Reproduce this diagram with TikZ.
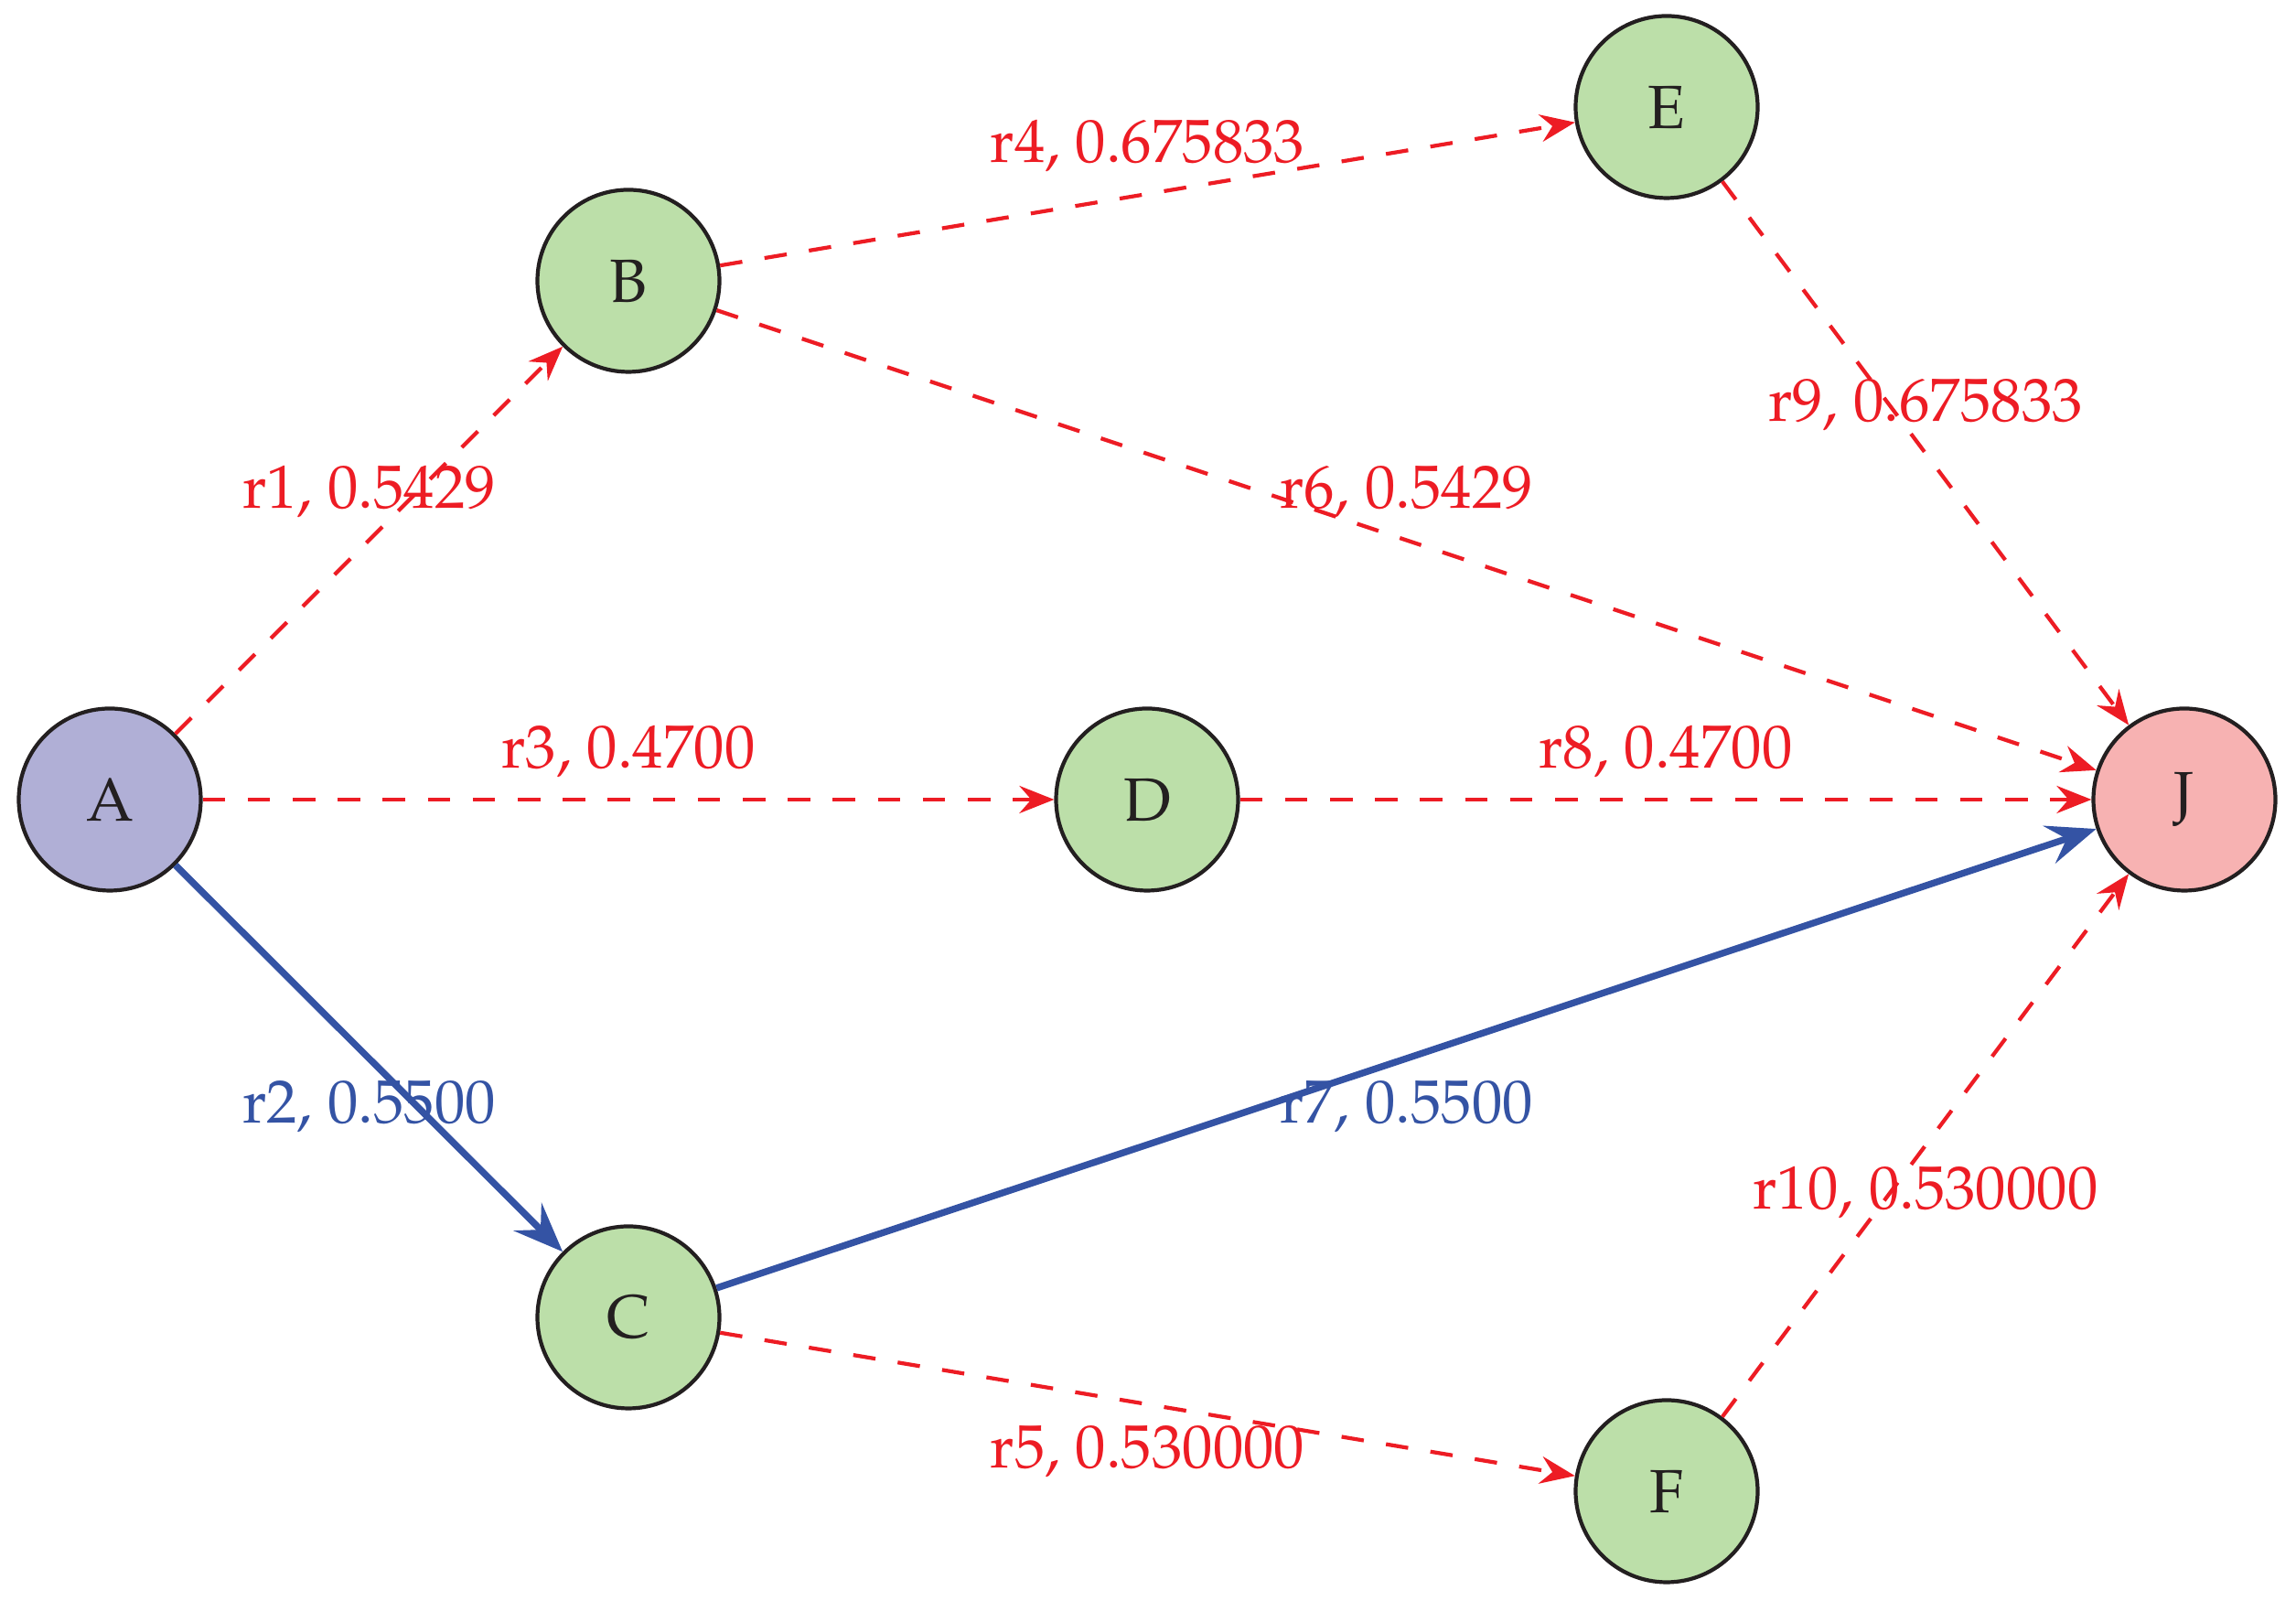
\documentclass[tikz,border=0pt]{standalone}
\usepackage[T1]{fontenc}
\usepackage{mathpazo}
\usepackage{tikz}
\usetikzlibrary{arrows.meta}

\definecolor{edgered}{RGB}{237,28,36}
\definecolor{pathblue}{RGB}{52,83,164}
\definecolor{nodegreen}{RGB}{188,223,169}
\definecolor{startblue}{RGB}{176,175,214}
\definecolor{endpink}{RGB}{247,178,178}
\definecolor{rim}{RGB}{35,31,32}

\begin{document}
\begin{tikzpicture}[
    every node/.style={font=\fontsize{19}{23}\selectfont},
    state/.style={circle, draw=rim, line width=1.2pt, minimum size=1.99cm, inner sep=0pt, text=rim},
    other/.style={edgered, line width=1.2pt, dash pattern=on 7pt off 7pt,
      -{Stealth[length=3.8mm, width=3mm, inset=1.3mm]}},
    best/.style={pathblue, line width=2.1pt,
      -{Stealth[length=5.4mm, width=4.3mm, inset=2mm]}},
    lblabove/.style={midway, above=1mm},
    lblbelow/.style={midway, below=0.9mm}
  ]
    % Page size
    \useasboundingbox (0,0) rectangle (25.10,17.50);

    % Define the columns
    \def\xa{1.20}
    \def\xb{6.87}
    \def\xc{12.54}
    \def\xd{18.22}
    \def\xe{23.88}

    % The states
    \node[state, fill=startblue] (A) at (\xa, 8.76) {A};
    \node[state, fill=nodegreen] (B) at (\xb, 14.43) {B};
    \node[state, fill=nodegreen] (C) at (\xb, 3.10) {C};
    \node[state, fill=nodegreen] (D) at (\xc, 8.76) {D};
    \node[state, fill=nodegreen] (E) at (\xd, 16.33) {E};
    \node[state, fill=nodegreen] (F) at (\xd, 1.20) {F};
    \node[state, fill=endpink] (J) at (\xe, 8.76) {J};

    % Reactions, upper half
    \draw[other] (A) -- (B) node[lblabove] {r1, 0.5429};
    \draw[other] (A) -- (D) node[lblabove] {r3, 0.4700};
    \draw[other] (B) -- (E) node[lblabove] {r4, 0.675833};
    \draw[other] (B) -- (J) node[lblabove] {r6, 0.5429};
    \draw[other] (D) -- (J) node[lblabove] {r8, 0.4700};
    \draw[other] (E) -- (J) node[lblabove] {r9, 0.675833};

    % Reactions, lower half
    \draw[other] (C) -- (F) node[lblbelow] {r5, 0.530000};
    \draw[other] (F) -- (J) node[lblbelow] {r10, 0.530000};

    % Best route
    \draw[best] (A) -- (C) node[lblbelow] {r2, 0.5500};
    \draw[best] (C) -- (J) node[lblbelow] {r7, 0.5500};
\end{tikzpicture}
\end{document}
